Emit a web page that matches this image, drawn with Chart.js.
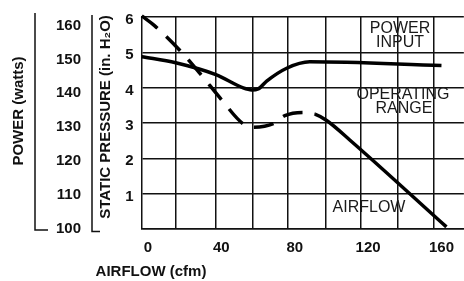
<!DOCTYPE html>
<html>
<head>
<meta charset="utf-8">
<script src="https://cdn.jsdelivr.net/npm/chart.js@4"></script>
<style>
  body { margin: 0; background: #fff; }
  canvas { display: block; }
</style>
</head>
<body>
<canvas id="chart" width="464" height="281"></canvas>
<script>
// airflow (cfm) vs static pressure (in. H2O)
const airflowX = [-3.4, 3.7, 17.3, 28.2, 39.9, 51.8, 57.4, 68.3, 74.6, 84.6, 91.0, 97.4, 110, 162.7];
const airflowY = [6.03, 5.75, 5.06, 4.41, 3.67, 2.98, 2.88, 2.98, 3.21, 3.30, 3.25, 3.07, 2.52, 0.06];

// airflow (cfm) vs power input (watts)
const powerX = [-3.4, 15.1, 37.0, 51.9, 56.5, 60.1, 64.7, 75.6, 88.2, 160];
const powerY = [150.8, 149.0, 145.5, 141.6, 141.0, 141.3, 143.6, 147.4, 149.3, 148.2];

const xLabels = [0, 40, 80, 120, 160];
const xGrid = [15, 37, 57, 76, 97, 116, 136, 156];
const pressureTicks = [0, 1, 2, 3, 4, 5, 6];
const powerTicks = [100, 110, 120, 130, 140, 150, 160];

const BOLD = 'bold 15px "Liberation Sans", Arial, sans-serif';
const THIN = '16px "Liberation Sans", Arial, sans-serif';
const INK = '#111';

const sideAxes = {
    id: 'sideAxes',
    afterDraw(chart) {
        const c = chart.ctx;
        const yP = chart.scales.yPower;
        c.save();
        c.strokeStyle = INK;
        c.lineWidth = 1.5;
        // power axis line
        c.beginPath();
        c.moveTo(35, 13);
        c.lineTo(35, 230);
        c.lineTo(48, 230);
        c.stroke();
        // static pressure axis line
        c.beginPath();
        c.moveTo(92, 15);
        c.lineTo(92, 231.5);
        c.lineTo(100, 231.5);
        c.stroke();

        c.fillStyle = INK;
        c.font = BOLD;
        c.textAlign = 'right';
        c.textBaseline = 'middle';
        powerTicks.forEach(v => c.fillText(String(v), 81, yP.getPixelForValue(v)));

        c.textAlign = 'center';
        c.save();
        c.translate(19, 111);
        c.rotate(-Math.PI / 2);
        c.fillText('POWER (watts)', 0, 0);
        c.restore();
        c.save();
        c.translate(106, 117);
        c.rotate(-Math.PI / 2);
        c.fillText('STATIC PRESSURE (in. H\u2082O)', 0, 0);
        c.restore();
        c.fillText('AIRFLOW (cfm)', 151, 272);

        c.font = THIN;
        c.fillStyle = '#1a1a1a';
        c.fillText('POWER', 400, 29);
        c.fillText('INPUT', 400, 43);
        c.fillText('OPERATING', 403, 95);
        c.fillText('RANGE', 404, 109);
        c.fillText('AIRFLOW', 369, 208);
        c.restore();
    }
};

new Chart(document.getElementById('chart'), {
    type: 'line',
    data: {
        datasets: [
            {
                label: 'Power input',
                data: powerX.map((x, i) => ({ x: x, y: powerY[i] })),
                yAxisID: 'yPower',
                borderColor: '#000',
                borderWidth: 3.5,
                pointRadius: 0,
                cubicInterpolationMode: 'monotone',
                clip: false
            },
            {
                label: 'Airflow',
                data: airflowX.map((x, i) => ({ x: x, y: airflowY[i] })),
                yAxisID: 'y',
                borderColor: '#000',
                borderWidth: 3.5,
                pointRadius: 0,
                cubicInterpolationMode: 'monotone',
                clip: false,
                segment: {
                    borderDash: ctx => ctx.p1.parsed.x <= 91 ? [20, 12] : undefined
                }
            }
        ]
    },
    options: {
        responsive: false,
        animation: false,
        devicePixelRatio: 1,
        layout: { padding: { left: 0, right: 0, top: 12.7, bottom: 0 } },
        plugins: {
            legend: { display: false },
            tooltip: { enabled: false }
        },
        scales: {
            x: {
                type: 'linear',
                position: 'bottom',
                min: -3.43,
                max: 172.2,
                afterBuildTicks: s => { s.ticks = xGrid.map(v => ({ value: v })); },
                afterFit: s => { s.height = 0; },
                ticks: { display: false },
                grid: { color: INK, lineWidth: 1.5, drawTicks: false },
                border: { display: true, color: INK, width: 1.5 }
            },
            x2: {
                type: 'linear',
                position: 'bottom',
                min: -3.43,
                max: 172.2,
                afterBuildTicks: s => { s.ticks = xLabels.map(v => ({ value: v })); },
                afterFit: s => { s.height = 52; },
                ticks: { color: INK, font: { family: '"Liberation Sans", Arial, sans-serif', size: 15, weight: 'bold' }, padding: 10, maxRotation: 0 },
                grid: { display: false, drawTicks: false },
                border: { display: false }
            },
            y: {
                position: 'left',
                min: 0,
                max: 6,
                afterBuildTicks: s => { s.ticks = pressureTicks.map(v => ({ value: v })); },
                afterFit: s => { s.width = 141.7; },
                ticks: {
                    color: INK,
                    font: { family: '"Liberation Sans", Arial, sans-serif', size: 15, weight: 'bold' },
                    padding: 8,
                    labelOffset: 3,
                    callback: v => v === 0 ? '' : String(v)
                },
                grid: { color: INK, lineWidth: 1.5, drawTicks: false },
                border: { display: true, color: INK, width: 1.5 }
            },
            yPower: {
                display: false,
                min: 100,
                max: 162.5
            }
        }
    },
    plugins: [sideAxes]
});
</script>
</body>
</html>
